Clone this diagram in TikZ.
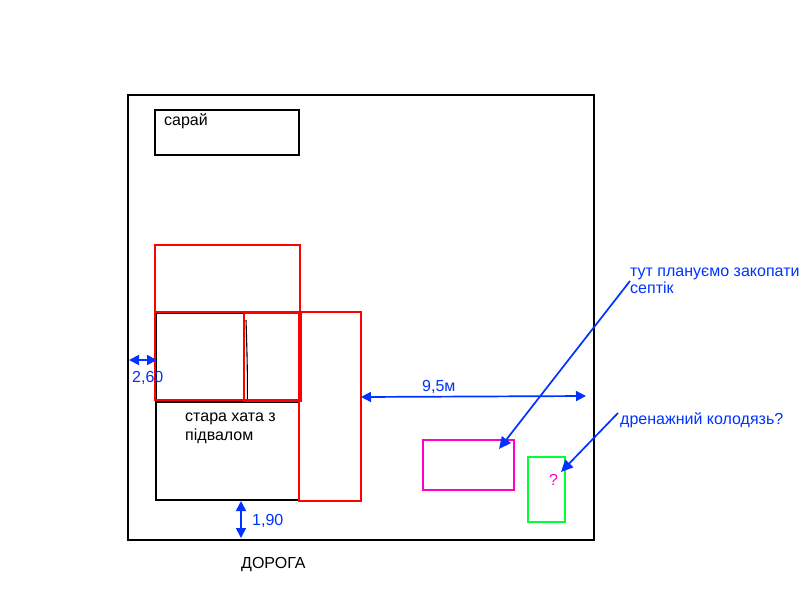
\documentclass[tikz,border=0pt]{standalone}
\usepackage{fontspec}
\setmainfont{Liberation Sans}
\usetikzlibrary{arrows.meta}
\definecolor{blu}{RGB}{0,51,255}
\definecolor{mag}{RGB}{255,0,204}
\definecolor{grn}{RGB}{0,255,51}
\tikzset{x=1pt,y=-1pt,
 box/.style={draw=#1,line width=1.6pt,fill=none,inner sep=0pt,minimum width=0pt},
 lab/.style={inner sep=0pt,anchor=base west,font=\fontsize{16}{17}\selectfont,align=left},
 bl/.style={lab,text=blu},
 arr/.style={draw=blu,line width=1.7pt,{Triangle[length=10pt,width=10pt]}-{Triangle[length=10pt,width=10pt]}},
 arrone/.style={draw=blu,line width=1.7pt,-{Triangle[length=12pt,width=11pt]}}}
\begin{document}
\begin{tikzpicture}
\useasboundingbox (0,0) rectangle (800,600);
\fill[white] (0,0) rectangle (800,600);
\draw[box=black] (128,95) rectangle (594,540);
\draw[box=black] (155,110) rectangle (299,155);
\draw[box=black] (156,402) rectangle (299,500);
\draw[box=black] (156,313.5) rectangle (244.5,400);
\draw[draw=black,line width=1.1pt] (246,320) .. controls (246.8,345) and (247.6,370) .. (247.4,400);
\draw[box=red] (299,312) rectangle (361,501);
\draw[box=red] (155,245) rectangle (300,312);
\draw[box=red] (155,312) rectangle (300,400);
\draw[box=red,line width=2pt] (244.3,313) rectangle (300.5,400.5);
\draw[box=mag] (423,440) rectangle (514,490);
\draw[box=grn] (528,457) rectangle (565,522);
\node[lab] (shed) at (164,125) {сарай};
\node[lab,font=\fontsize{16}{19}\selectfont] (house) at (185,440) {стара хата з\\підвалом};
\node[lab] (road) at (241,568) {ДОРОГА};
\node[bl] (l1) at (132,382) {2,60};
\node[bl] (l2) at (252,525) {1,90};
\node[bl] (l3) at (422,391) {9,5м};
\node[bl] (l4) at (630,293) {тут плануємо закопати\\септік};
\node[bl] (l5) at (620,424) {дренажний колодязь?};
\node[lab,text=mag] (q) at (549,485) {?};
\coordinate (a1) at (129,360); \coordinate (a2) at (157,360);
\coordinate (b1) at (241,501); \coordinate (b2) at (241,538);
\coordinate (c1) at (361,397); \coordinate (c2) at (586,396);
\coordinate (d1) at (630,281); \coordinate (d2) at (499,449);
\coordinate (e1) at (618,413); \coordinate (e2) at (561,472);
\draw[arr] (a1) -- (a2);
\draw[arr] (b1) -- (b2);
\draw[arr] (c1) -- (c2);
\draw[arrone] (d1) -- (d2);
\draw[arrone] (e1) -- (e2);
\end{tikzpicture}
\end{document}
